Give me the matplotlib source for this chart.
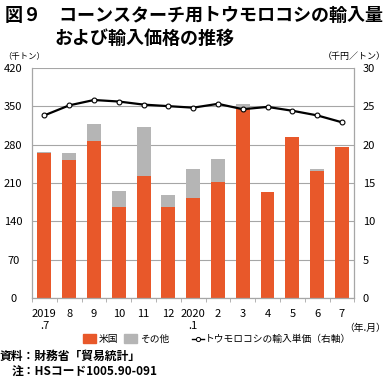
import matplotlib
matplotlib.use("Agg")
import matplotlib.pyplot as plt
from matplotlib.patches import Patch
from matplotlib.lines import Line2D

plt.rcParams['font.family'] = ['Noto Sans CJK JP', 'DejaVu Sans']

months = ['2019\n.7', '8', '9', '10', '11', '12', '2020\n.1', '2', '3', '4', '5', '6', '7']
us = [265, 252, 287, 166, 223, 166, 183, 212, 346, 193, 294, 231, 276]
other = [1, 12, 30, 29, 89, 22, 52, 42, 7, 0, 0, 4, 0]
price = [23.8, 25.1, 25.8, 25.6, 25.2, 25.0, 24.8, 25.3, 24.6, 24.9, 24.4, 23.8, 22.9]

orange = '#E8582A'
gray = '#B5B5B5'
gridc = '#A6A6A6'

fig = plt.figure(figsize=(3.87, 3.81), dpi=100)
ax = fig.add_axes([0.0827, 0.217, 0.8328, 0.6053])
x = range(len(months))

ax.set_axisbelow(True)
ax.yaxis.grid(True, color=gridc, linewidth=0.8)
ax.bar(x, us, width=0.56, color=orange, zorder=2)
ax.bar(x, other, width=0.56, bottom=us, color=gray, zorder=2)
ax.set_ylim(0, 420)
ax.set_yticks(range(0, 421, 70))
ax.set_xlim(-0.5, len(months) - 0.5)
ax.set_xticks(x)
ax.set_xticklabels(months, fontsize=8, linespacing=1.15)
ax.set_xticks([i + 0.5 for i in range(-1, len(months))], minor=True)
ax.tick_params(axis='x', which='major', length=0, pad=8)
ax.tick_params(axis='x', which='minor', length=3, color=gridc)
ax.tick_params(axis='y', length=0, labelsize=8, pad=13.5)
for lab in ax.get_yticklabels():
    lab.set_horizontalalignment('center')
ax.spines['top'].set_visible(False)
for s in ['left', 'right', 'bottom']:
    ax.spines[s].set_color(gridc)
    ax.spines[s].set_linewidth(0.9)

ax2 = ax.twinx()
ax2.plot(x, price, color='black', linewidth=1.6, marker='o', markersize=3.5,
         markerfacecolor='white', markeredgecolor='black', markeredgewidth=0.8, zorder=3)
ax2.set_ylim(0, 30)
ax2.set_yticks(range(0, 31, 5))
ax2.tick_params(axis='y', length=0, labelsize=8, pad=6)
for s in ['top', 'left', 'bottom', 'right']:
    ax2.spines[s].set_visible(False)

fig.text(0.013, 0.985, '図９　コーンスターチ用トウモロコシの輸入量', fontsize=13,
         fontweight='bold', va='top', ha='left')
fig.text(0.142, 0.925, 'および輸入価格の推移', fontsize=13,
         fontweight='bold', va='top', ha='left')
fig.text(0.008, 0.84, '（千トン）', fontsize=6, va='bottom', ha='left')
fig.text(0.998, 0.84, '（千円／トン）', fontsize=6.5, va='bottom', ha='right')
fig.text(0.998, 0.138, '（年.月）', fontsize=7, va='center', ha='right')

bar_handles = [Patch(color=orange), Patch(color=gray)]
leg1 = fig.legend(bar_handles, ['米国', 'その他'], loc='center left',
                  bbox_to_anchor=(0.215, 0.11), ncol=2, frameon=False, fontsize=7,
                  handlelength=1.35, handleheight=1.0, handletextpad=0.25,
                  columnspacing=0.6, borderpad=0, borderaxespad=0)
line_handle = [Line2D([0], [0], color='black', linewidth=1.0, marker='o', markersize=3,
                      markerfacecolor='white', markeredgewidth=0.7)]
fig.legend(line_handle, ['トウモロコシの輸入単価（右軸）'], loc='center left',
           bbox_to_anchor=(0.497, 0.11), frameon=False, fontsize=7,
           handlelength=1.2, handletextpad=0.1, borderpad=0, borderaxespad=0)

fig.text(0.0, 0.065, '資料：財務省「貿易統計」', fontsize=8.5, fontweight='bold',
         va='center', ha='left')
fig.text(0.03, 0.022, '注：HSコード1005.90-091', fontsize=8.5, fontweight='bold',
         va='center', ha='left')

fig.savefig('out.png', dpi=100)
